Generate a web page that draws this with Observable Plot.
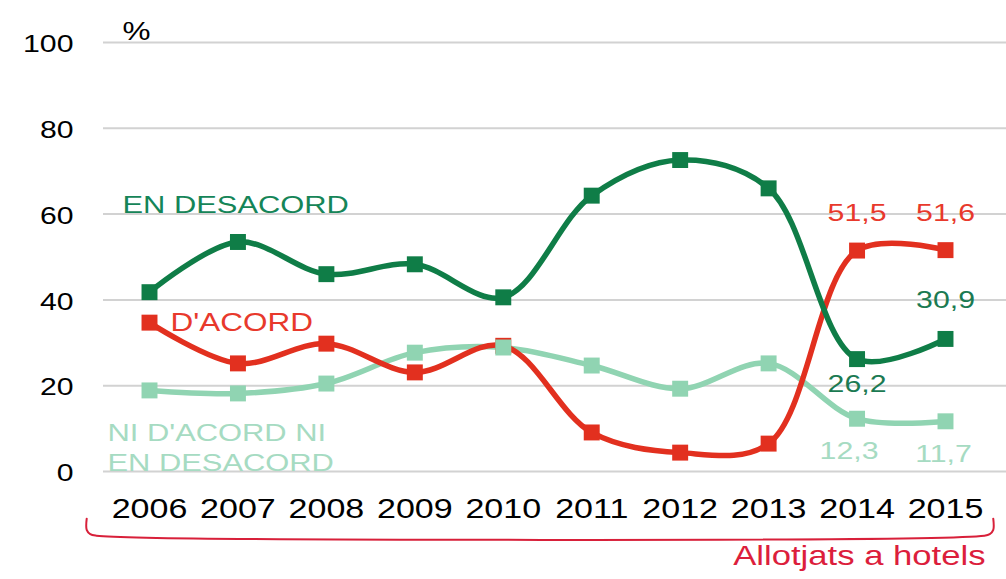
<!DOCTYPE html>
<html><head><meta charset="utf-8">
<script src="https://cdn.jsdelivr.net/npm/d3@7"></script>
<script src="https://cdn.jsdelivr.net/npm/@observablehq/plot@0.6"></script>
<style>
body{margin:0;background:#fff;}
svg{font-family:"Liberation Sans",Arial,sans-serif;}
</style>
</head><body><div id="chart"></div>
<script>
const years = [2006, 2007, 2008, 2009, 2010, 2011, 2012, 2013, 2014, 2015];
const desacord = [41.8, 53.5, 46.0, 48.3, 40.6, 64.3, 72.6, 66.0, 26.2, 30.9];
const acord = [34.7, 25.2, 29.8, 23.1, 29.3, 9.1, 4.4, 6.5, 51.5, 51.6];
const neutral = [18.9, 18.2, 20.5, 27.7, 28.9, 24.7, 19.3, 25.2, 12.3, 11.7];
const yTicks = [0, 20, 40, 60, 80, 100];
const seriesNames = ["EN DESACORD", "D'ACORD", "NI D'ACORD NI", "EN DESACORD"];
const unitLabel = "%";
const groupLabel = "Allotjats a hotels";

const C_DES = "#0f7d47", C_ACO = "#e2301f", C_NEU = "#90d4b2";
const L_DES = "#158558", L_ACO = "#e8392c", L_NEU = "#a6dbc2";

const fmt = v => d3.format(".1f")(v).replace(".", ",");
const toRows = arr => years.map((year, i) => ({year, value: arr[i]}));
const rDes = toRows(desacord), rAco = toRows(acord), rNeu = toRows(neutral);
const last2 = rows => rows.slice(-2);
const x0 = years[0], x1 = years[years.length - 1];
const brace = [
  {x: x0 - 0.71, y: -11}, {x: x0 - 0.71, y: -13.6}, {x: x0 - 0.67, y: -14.6}, {x: x0 - 0.6, y: -14.95},
  {x: x1 + 0.44, y: -14.95}, {x: x1 + 0.5, y: -14.6}, {x: x1 + 0.54, y: -13.6}, {x: x1 + 0.54, y: -11}
];

const curve = "catmull-rom";
const plot = Plot.plot({
  width: 1006, height: 579,
  marginLeft: 103, marginRight: 0, marginTop: 42, marginBottom: 108,
  style: {color: "#000", fontFamily: "'Liberation Sans', Arial, sans-serif", background: "#fff"},
  x: {domain: [x0, x1], range: [149, 945]},
  y: {domain: [0, 100]},
  marks: [
    Plot.ruleY(yTicks, {stroke: "#d2d2d2", strokeWidth: 2}),
    Plot.line(brace, {x: "x", y: "y", stroke: "#d8203a", strokeWidth: 2, curve: "catmull-rom"}),
    Plot.line(rNeu, {x: "year", y: "value", stroke: C_NEU, strokeWidth: 5.5, curve}),
    Plot.line(rAco, {x: "year", y: "value", stroke: C_ACO, strokeWidth: 5.5, curve}),
    Plot.line(rDes, {x: "year", y: "value", stroke: C_DES, strokeWidth: 5.5, curve}),
    Plot.dot(rAco, {x: "year", y: "value", symbol: "square", fill: C_ACO, r: 9}),
    Plot.dot(rNeu, {x: "year", y: "value", symbol: "square", fill: C_NEU, r: 9}),
    Plot.dot(rDes, {x: "year", y: "value", symbol: "square", fill: C_DES, r: 9}),
    Plot.axisY(yTicks, {tickSize: 0, tickPadding: 30, fontSize: 24, dy: 2, label: null}),
    Plot.axisX(years, {tickSize: 0, tickPadding: 27, fontSize: 27, tickFormat: d => String(d), label: null}),
    Plot.text([unitLabel], {frameAnchor: "top-left", dx: 19, dy: -20, textAnchor: "start", fontSize: 25}),
    Plot.text([groupLabel], {frameAnchor: "bottom-right", dx: -21, dy: 93, textAnchor: "end", fontSize: 27.5, fill: "#dc1e3c"}),
    // series names
    Plot.text([seriesNames[0]], {x: [x0 - 0.305], y: [62.0], textAnchor: "start", fontSize: 24.5, fill: L_DES}),
    Plot.text([seriesNames[1]], {x: [x0 + 0.237], y: [34.7], textAnchor: "start", fontSize: 25, fill: L_ACO}),
    Plot.text([seriesNames[2]], {x: [x0 - 0.475], y: [9.0], textAnchor: "start", fontSize: 24.5, fill: L_NEU}),
    Plot.text([seriesNames[3]], {x: [x0 - 0.475], y: [2.0], textAnchor: "start", fontSize: 24.5, fill: L_NEU}),
    // value labels
    Plot.text(last2(rAco), {x: "year", y: "value", text: d => fmt(d.value), dy: -37, fontSize: 24, fill: L_ACO}),
    Plot.text(rDes.slice(-2, -1), {x: "year", y: "value", text: d => fmt(d.value), dy: 25, fontSize: 24, fill: "#1b7a52"}),
    Plot.text(rDes.slice(-1), {x: "year", y: "value", text: d => fmt(d.value), dy: -39, fontSize: 24, fill: "#1b7a52"}),
    Plot.text(rNeu.slice(-2, -1), {x: "year", y: "value", text: d => fmt(d.value), dx: -8, dy: 33, fontSize: 24, fill: L_NEU}),
    Plot.text(rNeu.slice(-1), {x: "year", y: "value", text: d => fmt(d.value), dx: -2, dy: 33, fontSize: 24, fill: L_NEU})
  ]
});
document.getElementById("chart").appendChild(plot);
// the reference's lettering is horizontally widened
plot.querySelectorAll("text").forEach(t => {
  const L = t.getComputedTextLength();
  if (L > 0) {
    t.setAttribute("textLength", (L * 1.26).toFixed(1));
    t.setAttribute("lengthAdjust", "spacingAndGlyphs");
  }
});
</script>
</body></html>
